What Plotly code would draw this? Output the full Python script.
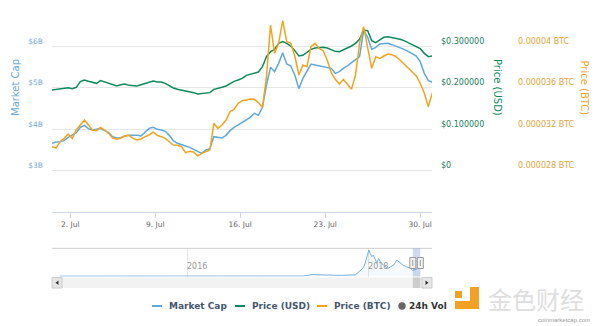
import numpy as np
import pandas as pd
import plotly.graph_objects as go

# ---------------- data ----------------
# Sample timestamps (ordinal axis: denser sampling during the last week)
times = list(pd.date_range("2018-06-30 12:00", periods=68, freq="8h")) + \
        list(pd.date_range("2018-07-23 03:34", periods=27, freq="429min"))

market_cap_b = [
    3.655, 3.687, 3.695, 3.719, 3.799, 3.847, 3.912, 4.040, 4.088, 4.008,
    3.976, 3.992, 4.016, 3.960, 3.912, 3.815, 3.783, 3.791, 3.831, 3.847,
    3.855, 3.847, 3.831, 3.928, 4.016, 4.040, 3.992, 3.976, 3.944, 3.847,
    3.719, 3.655, 3.614, 3.590, 3.558, 3.510, 3.454, 3.414, 3.494, 3.526,
    3.815, 3.799, 3.783, 3.847, 3.960, 4.040, 4.096, 4.153, 4.217, 4.281,
    4.378, 4.329, 4.522, 5.060, 5.486, 5.382, 5.582, 5.839, 5.566, 5.518,
    5.301, 4.972, 5.221, 5.406, 5.566, 5.542, 5.518, 5.502, 5.486, 5.462,
    5.341, 5.382, 5.462, 5.518, 5.598, 5.663, 5.743, 6.370, 6.209, 5.920,
    5.968, 6.048, 6.064, 6.064, 6.032, 6.000, 5.952, 5.920, 5.871, 5.823,
    5.759, 5.622, 5.341, 5.165, 5.133,
]

price_usd = [
    0.1940, 0.1956, 0.1964, 0.1972, 0.1996, 0.1972, 0.2004, 0.2141, 0.2181, 0.2149,
    0.2116, 0.2100, 0.2165, 0.2133, 0.2100, 0.2060, 0.2036, 0.2068, 0.2084, 0.2052,
    0.2036, 0.2036, 0.2068, 0.2100, 0.2141, 0.2157, 0.2133, 0.2133, 0.2100, 0.2036,
    0.1988, 0.1956, 0.1940, 0.1908, 0.1892, 0.1876, 0.1843, 0.1859, 0.1859, 0.1876,
    0.1956, 0.1972, 0.2004, 0.2036, 0.2100, 0.2149, 0.2181, 0.2221, 0.2293, 0.2325,
    0.2341, 0.2373, 0.2502, 0.2743, 0.2863, 0.2920, 0.3064, 0.3104, 0.3064, 0.3000,
    0.2888, 0.2759, 0.2775, 0.2839, 0.2920, 0.2952, 0.2968, 0.2968, 0.2952, 0.2920,
    0.2871, 0.2863, 0.2904, 0.2952, 0.3000, 0.3064, 0.3161, 0.3386, 0.3369, 0.3129,
    0.3080, 0.3145, 0.3209, 0.3225, 0.3209, 0.3177, 0.3161, 0.3129, 0.3080, 0.3048,
    0.3000, 0.2936, 0.2823, 0.2743, 0.2759,
]

# Price in BTC, in units of 1e-6 BTC
price_btc_micro = [
    30.297, 30.169, 30.779, 31.100, 31.518, 31.100, 31.904, 32.386, 32.867, 32.386,
    31.904, 31.839, 32.161, 31.904, 31.582, 31.133, 31.004, 31.133, 31.325, 31.390,
    31.100, 30.940, 31.036, 31.261, 31.422, 31.711, 31.390, 31.261, 31.100, 30.747,
    30.458, 30.426, 30.297, 29.719, 29.847, 29.783, 29.398, 29.655, 29.847, 29.976,
    32.546, 32.064, 32.386, 32.867, 33.671, 33.896, 34.474, 34.731, 34.795, 34.892,
    34.859, 34.538, 34.088, 37.044, 42.024, 39.293, 40.257, 42.442, 40.418, 40.257,
    39.036, 37.205, 38.169, 38.008, 39.936, 40.257, 39.775, 39.550, 38.651, 37.430,
    36.787, 36.337, 36.787, 36.337, 35.823, 37.205, 40.257, 41.863, 39.936, 37.847,
    38.972, 38.811, 39.036, 39.229, 39.165, 38.972, 38.651, 38.265, 37.880, 37.494,
    37.108, 36.402, 35.438, 34.153, 35.502,
]

# Navigator: full-history market cap (billions USD)
nav_dates = [
    "2014-08-05", "2014-12-01", "2015-03-01", "2015-06-01", "2015-09-01", "2015-12-01",
    "2016-03-01", "2016-06-01", "2016-09-01", "2016-12-01", "2017-03-01", "2017-04-15",
    "2017-05-20", "2017-06-15", "2017-07-15", "2017-08-15", "2017-09-15", "2017-10-15",
    "2017-11-10", "2017-11-25", "2017-12-10", "2017-12-18", "2017-12-28", "2018-01-04",
    "2018-01-10", "2018-01-16", "2018-01-22", "2018-01-30", "2018-02-06", "2018-02-12",
    "2018-02-24", "2018-03-05", "2018-03-12", "2018-03-22", "2018-04-04", "2018-04-15",
    "2018-04-27", "2018-05-09", "2018-05-22", "2018-06-05", "2018-06-18", "2018-06-30",
    "2018-07-15", "2018-07-20", "2018-07-31",
]
nav_mc_b = [
    0.01, 0.02, 0.02, 0.02, 0.01, 0.01,
    0.01, 0.01, 0.01, 0.02, 0.03, 0.10,
    1.00, 0.80, 0.50, 0.60, 0.50, 0.50,
    0.80, 2.70, 4.80, 6.90, 13.0, 16.25,
    14.0, 12.1, 13.1, 10.0, 8.0, 11.0,
    7.9, 7.0, 5.8, 4.8, 5.8, 7.0,
    10.0, 8.5, 6.9, 5.8, 5.2, 3.7,
    4.3, 5.5, 5.1,
]

x_tick_dates = ["2018-07-02", "2018-07-09", "2018-07-16", "2018-07-23", "2018-07-30"]
x_tick_text = ["2. Jul", "9. Jul", "16. Jul", "23. Jul", "30. Jul"]
mc_ticks = [3, 4, 5, 6]
mc_tick_text = ["$3B", "$4B", "$5B", "$6B"]
usd_ticks = [0, 0.1, 0.2, 0.3]
usd_tick_text = ["$0", "$0.100000", "$0.200000", "$0.300000"]
btc_ticks = [0.000028, 0.000032, 0.000036, 0.00004]
btc_tick_text = ["0.000028 BTC", "0.000032 BTC", "0.000036 BTC", "0.00004 BTC"]
nav_ticks = ["2016-01-01", "2018-01-01"]
nav_tick_text = ["2016", "2018"]

# ---------------- style ----------------
W, H = 600, 326
BLUE = "#5ea8dc"
GREEN = "#0f8a5c"
ORANGE = "#f2a31f"
FONT = "DejaVu Sans"


def fx(p):
    return p / W


def fy(p):
    return 1 - p / H


idx = np.arange(len(times))
t_num = np.array([t.value for t in times], dtype=float)
tick_pos = np.interp(pd.to_datetime(x_tick_dates).astype("int64").astype(float), t_num, idx)
price_btc = [v * 1e-6 for v in price_btc_micro]

fig = go.Figure()

# Navigator series
fig.add_trace(go.Scatter(
    x=nav_dates, y=nav_mc_b, xaxis="x2", yaxis="y4", mode="lines",
    line=dict(color="#79b0dc", width=1), fill="tozeroy",
    fillcolor="rgba(94,168,220,0.07)", showlegend=False, hoverinfo="skip"))

fig.add_trace(go.Scatter(x=idx, y=market_cap_b, yaxis="y", mode="lines",
                         line=dict(color=BLUE, width=1.5), name="Market Cap", showlegend=False))
fig.add_trace(go.Scatter(x=idx, y=price_usd, yaxis="y2", mode="lines",
                         line=dict(color=GREEN, width=1.5), name="Price (USD)", showlegend=False))
fig.add_trace(go.Scatter(x=idx, y=price_btc, yaxis="y3", mode="lines",
                         line=dict(color=ORANGE, width=1.5), name="Price (BTC)", showlegend=False))

main_dom = [fy(212), fy(4.5)]
xdom = [fx(52), fx(432)]

fig.update_layout(
    width=W, height=H, margin=dict(l=0, r=0, t=0, b=0),
    paper_bgcolor="white", plot_bgcolor="rgba(0,0,0,0)",
    font=dict(family=FONT, color="#666666"),
    hovermode=False,
    xaxis=dict(domain=xdom, range=[0, 93.9], anchor="y", tickvals=list(tick_pos),
               ticktext=x_tick_text, showgrid=False, zeroline=False, showline=True,
               linecolor="#ccd6eb", linewidth=1, ticks="outside", ticklen=5,
               tickcolor="#ccd6eb", tickfont=dict(size=7.5, color="#666666")),
    yaxis=dict(domain=main_dom, range=[2, 7], tickvals=mc_ticks, ticktext=mc_tick_text,
               showgrid=True, gridcolor="#e6e6e6", gridwidth=1, zeroline=False,
               showline=False, ticks="", ticklabelstandoff=8, ticklabelshift=-5,
               tickfont=dict(size=7.5, color="#7aaad2")),
    yaxis2=dict(domain=main_dom, overlaying="y", side="right", anchor="x",
                range=[-0.1, 0.4], tickvals=usd_ticks, ticktext=usd_tick_text,
                showgrid=False, zeroline=False, showline=False, ticks="",
                ticklabelstandoff=8, ticklabelshift=-5,
                tickfont=dict(size=8, color="#1d7d5c")),
    yaxis3=dict(domain=main_dom, overlaying="y", side="right", anchor="free",
                position=fx(509), range=[24e-6, 44e-6], tickvals=btc_ticks,
                ticktext=btc_tick_text, showgrid=False, zeroline=False, showline=False,
                ticks="", ticklabelstandoff=8, ticklabelshift=-5,
                tickfont=dict(size=8, color="#e2a43c")),
    xaxis2=dict(domain=xdom, anchor="y4", type="date",
                range=["2014-07-05", "2018-09-16"], tickvals=nav_ticks,
                ticktext=nav_tick_text, showgrid=True, gridcolor="#e6e6e6",
                zeroline=False, showline=False, ticks="",
                ticklabelposition="inside right",
                tickfont=dict(size=8, color="#999999")),
    yaxis4=dict(domain=[fy(276.5), fy(248.3)], range=[-0.2, 17.3], visible=False,
                fixedrange=True),
)

shapes = []
# navigator outline
shapes.append(dict(type="line", xref="paper", yref="paper", x0=fx(52), x1=fx(432),
                   y0=fy(248.3), y1=fy(248.3), line=dict(color="#cccccc", width=1)))
# selected range band
shapes.append(dict(type="rect", xref="x2", yref="paper", x0=times[0], x1=times[-1],
                   y0=fy(276.5), y1=fy(248.3), fillcolor="rgba(102,133,194,0.3)",
                   line=dict(width=0)))
# scrollbar track
shapes.append(dict(type="rect", xref="paper", yref="paper", x0=fx(52), x1=fx(432),
                   y0=fy(288), y1=fy(277.5), fillcolor="#f2f2f2", line=dict(width=0)))
# scrollbar thumb
shapes.append(dict(type="rect", xref="x2", yref="paper", x0=times[0], x1=times[-1],
                   y0=fy(288), y1=fy(277.5), fillcolor="#cccccc", line=dict(width=0)))
# scrollbar buttons
for a, b in [(52, 62), (422, 432)]:
    shapes.append(dict(type="rect", xref="paper", yref="paper", x0=fx(a), x1=fx(b),
                       y0=fy(288), y1=fy(277.5), fillcolor="#e6e6e6",
                       line=dict(color="#cccccc", width=1)))


def tri(pts):
    s = "M " + " L ".join(f"{fx(px)},{fy(py)}" for px, py in pts) + " Z"
    return s


shapes.append(dict(type="path", xref="paper", yref="paper",
                   path=tri([(58.5, 280.5), (58.5, 285), (55.5, 282.75)]),
                   fillcolor="#333333", line=dict(width=0)))
shapes.append(dict(type="path", xref="paper", yref="paper",
                   path=tri([(425.5, 280.5), (425.5, 285), (428.5, 282.75)]),
                   fillcolor="#333333", line=dict(width=0)))
# navigator handles
for anchor in (times[0], times[-1]):
    shapes.append(dict(type="rect", xref="x2", yref="paper", xsizemode="pixel",
                       xanchor=anchor, x0=-3, x1=3, y0=fy(268.5), y1=fy(257.5),
                       fillcolor="#f2f2f2", line=dict(color="#999999", width=1)))
    shapes.append(dict(type="line", xref="x2", yref="paper", xsizemode="pixel",
                       xanchor=anchor, x0=0, x1=0, y0=fy(266), y1=fy(260),
                       line=dict(color="#999999", width=1)))

# custom legend
LEG_Y = 306
for (a, b), col in zip([(152, 162), (235, 245), (317, 327)], [BLUE, GREEN, ORANGE]):
    shapes.append(dict(type="line", xref="paper", yref="paper", x0=fx(a), x1=fx(b),
                       y0=fy(LEG_Y), y1=fy(LEG_Y), line=dict(color=col, width=2)))
shapes.append(dict(type="circle", xref="paper", yref="paper", x0=fx(398.3), x1=fx(405.7),
                   y0=fy(LEG_Y + 3.7), y1=fy(LEG_Y - 3.7), fillcolor="#666666",
                   line=dict(width=0)))

# watermark logo
LOGO = "#f2a124"
for (a, b, c, d) in [(455, 462, 291, 298), (470, 479, 287, 309), (455, 479, 301, 309)]:
    shapes.append(dict(type="rect", xref="paper", yref="paper", x0=fx(a), x1=fx(b),
                       y0=fy(d), y1=fy(c), fillcolor=LOGO, line=dict(width=0)))

annotations = []
for text, xp in zip(["Market Cap", "Price (USD)", "Price (BTC)", "24h Vol"],
                    [166.5, 250, 331.5, 406.5]):
    annotations.append(dict(text=f"<b>{text}</b>", x=fx(xp), y=fy(LEG_Y), xref="paper",
                            yref="paper", xanchor="left", yanchor="middle",
                            showarrow=False,
                            font=dict(family=FONT, size=9,
                                      color="#333333" if text == "24h Vol" else "#45566b")))

annotations.append(dict(text="Market Cap", x=fx(15), y=fy(88), xref="paper", yref="paper",
                        textangle=-90, showarrow=False, xanchor="center", yanchor="middle",
                        font=dict(family=FONT, size=10, color="#6aa8d8")))
annotations.append(dict(text="Price (USD)", x=fx(497.5), y=fy(87.5), xref="paper",
                        yref="paper", textangle=90, showarrow=False, xanchor="center",
                        yanchor="middle", font=dict(family=FONT, size=10, color=GREEN)))
annotations.append(dict(text="Price (BTC)", x=fx(584), y=fy(87.5), xref="paper",
                        yref="paper", textangle=90, showarrow=False, xanchor="center",
                        yanchor="middle", font=dict(family=FONT, size=10, color="#e9a531")))

annotations.append(dict(text="金色财经", x=fx(536), y=fy(298.5), xref="paper", yref="paper",
                        showarrow=False, xanchor="center", yanchor="middle",
                        font=dict(family="Noto Sans CJK SC", size=24, color="#dedede")))
annotations.append(dict(text="coinmarketcap.com", x=fx(592), y=fy(320), xref="paper",
                        yref="paper", showarrow=False, xanchor="right", yanchor="middle",
                        font=dict(family="Liberation Sans", size=6, color="#999999")))

fig.update_layout(shapes=shapes, annotations=annotations)

fig.write_html("out.html")
